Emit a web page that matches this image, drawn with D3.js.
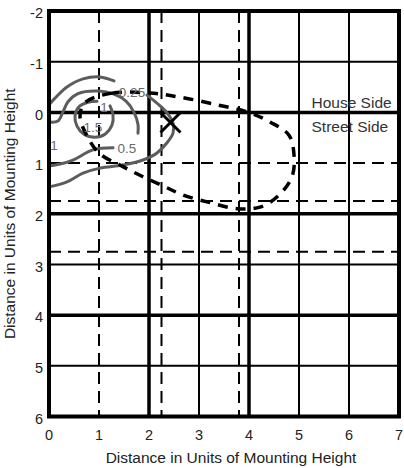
<!DOCTYPE html>
<html><head><meta charset="utf-8">
<script src="https://cdn.jsdelivr.net/npm/d3@7"></script>
<style>body{margin:0;background:#fff}svg{display:block}text{font-family:"Liberation Sans",Arial,sans-serif}</style>
</head><body><svg id="c" width="404" height="468"></svg>
<script>
// ---- data ----
const xTickValues = [0,1,2,3,4,5,6,7];
const yTickValues = [-2,-1,0,1,2,3,4,5,6];
const thinX = [3,5,6];
const thickX = [2,4];
const thinY = [-1,3,5];
const thickY = [0,2,4];
const dashedX = [1,2.25,3.8];
const dashedY = [1,1.75,2.75];

// contour 0.25 (outermost) split by its label
const c025a = [[0,-0.15],[0.16,-0.32],[0.36,-0.5],[0.68,-0.66],[1.02,-0.7],[1.3,-0.62]];
const c025b = [[1.96,-0.34],[2.16,-0.18],[2.36,0.01],[2.48,0.21],[2.48,0.41],[2.36,0.6],[2.16,0.8],[1.88,0.94],[1.48,1.04],[1.02,1.1],[0.68,1.2],[0.36,1.37],[0,1.47]];
// contour 0.5
const c05a = [[0,0.19],[0.18,0.17],[0.28,-0.01],[0.38,-0.21],[0.58,-0.37],[0.98,-0.42],[1.3,-0.36],[1.54,-0.22],[1.7,0.0],[1.78,0.24],[1.78,0.41]];
const c05b = [[1.28,0.7],[0.88,0.74],[0.48,0.94],[0.22,1.02],[0,1.06]];
// contour 1
const c1 = [[1.22,-0.13],[1.28,0.05],[1.26,0.25],[1.12,0.43],[0.92,0.49],[0.7,0.43],[0.56,0.27],[0.52,0.07],[0.6,-0.11],[0.78,-0.2],[0.96,-0.22]];
// black dashed isoline (closed)
const loop = [[0.72,-0.19],[1.26,-0.38],[2.02,-0.38],[2.62,-0.3],[3.36,-0.15],[4.02,0.01],[4.42,0.19],[4.8,0.45],[4.9,0.84],[4.86,1.27],[4.58,1.65],[4.22,1.87],[3.76,1.9],[3.22,1.78],[2.68,1.63],[2.28,1.45],[1.88,1.27],[1.46,1.06],[1.02,0.82],[0.78,0.5],[0.62,0.08]];
const marker = [2.43,0.2];
const contourLabels = [
  {t:"0.25", x:1.66, y:-0.4},
  {t:"1", x:1.1, y:-0.1},
  {t:"1.5", x:0.88, y:0.3},
  {t:"1", x:0.1, y:0.64},
  {t:"0.5", x:1.56, y:0.7}
];
const sideLabels = [{t:"House Side", x:5.25, y:-0.2},{t:"Street Side", x:5.25, y:0.28}];
const axisTitle = "Distance in Units of Mounting Height";

// ---- drawing ----
const svg = d3.select("#c");
const x = d3.scaleLinear().domain([0,7]).range([49,399]);
const y = d3.scaleLinear().domain([-2,6]).range([11,416.5]);
const line = d3.line().x(d=>x(d[0])).y(d=>y(d[1])).curve(d3.curveCatmullRom.alpha(0.5));
const lineClosed = d3.line().x(d=>x(d[0])).y(d=>y(d[1])).curve(d3.curveCatmullRomClosed.alpha(0.5));

const g = svg.append("g");
// thin solid grid
g.selectAll(".tx").data(thinX).join("line").attr("x1",d=>x(d)).attr("x2",d=>x(d)).attr("y1",y(-2)).attr("y2",y(6)).attr("stroke","#000").attr("stroke-width",2);
g.selectAll(".ty").data(thinY).join("line").attr("y1",d=>y(d)).attr("y2",d=>y(d)).attr("x1",x(0)).attr("x2",x(7)).attr("stroke","#000").attr("stroke-width",2);
// dashed grid
g.selectAll(".dx").data(dashedX).join("line").attr("x1",d=>x(d)).attr("x2",d=>x(d)).attr("y1",y(-2)).attr("y2",y(6)).attr("stroke","#000").attr("stroke-width",2).attr("stroke-dasharray","12,7");
g.selectAll(".dy").data(dashedY).join("line").attr("y1",d=>y(d)).attr("y2",d=>y(d)).attr("x1",x(0)).attr("x2",x(7)).attr("stroke","#000").attr("stroke-width",2).attr("stroke-dasharray","12,7");
// thick grid
g.selectAll(".kx").data(thickX).join("line").attr("x1",d=>x(d)).attr("x2",d=>x(d)).attr("y1",y(-2)).attr("y2",y(6)).attr("stroke","#000").attr("stroke-width",3.5);
g.selectAll(".ky").data(thickY).join("line").attr("y1",d=>y(d)).attr("y2",d=>y(d)).attr("x1",x(0)).attr("x2",x(7)).attr("stroke","#000").attr("stroke-width",3.5);

// contours
const gray = "#5c5c5c";
[c025a,c025b,c05a,c05b,c1].forEach(c=>{
  g.append("path").attr("d",line(c)).attr("fill","none").attr("stroke",gray).attr("stroke-width",3).attr("stroke-linecap","round");
});
g.append("path").attr("d",lineClosed(loop)).attr("fill","none").attr("stroke","#000").attr("stroke-width",3.5).attr("stroke-dasharray","10,8");
// X marker
const mx = x(marker[0]), my = y(marker[1]), r = 10;
g.append("path").attr("d",`M${mx-r},${my-r}L${mx+r},${my+r}M${mx-r},${my+r}L${mx+r},${my-r}`).attr("stroke","#000").attr("stroke-width",3);

// contour labels
g.selectAll(".cl").data(contourLabels).join("text").attr("x",d=>x(d.x)).attr("y",d=>y(d.y)).attr("dy","0.36em").attr("text-anchor","middle").attr("font-size",13.5).attr("fill","#6a6a6a").text(d=>d.t);
// side labels
g.selectAll(".sl").data(sideLabels).join("text").attr("x",d=>x(d.x)).attr("y",d=>y(d.y)).attr("dy","0.36em").attr("font-size",15.5).attr("fill","#333").text(d=>d.t);

// frame
g.append("rect").attr("x",x(0)).attr("y",y(-2)).attr("width",x(7)-x(0)).attr("height",y(6)-y(-2)).attr("fill","none").attr("stroke","#000").attr("stroke-width",4);

// axes labels
svg.selectAll(".xl").data(xTickValues).join("text").attr("x",d=>x(d)).attr("y",440).attr("text-anchor","middle").attr("font-size",14.5).attr("fill","#222").text(d=>d);
svg.selectAll(".yl").data(yTickValues).join("text").attr("x",43).attr("y",d=>y(d)).attr("dy","0.5em").attr("text-anchor","end").attr("font-size",14.5).attr("fill","#222").text(d=>d);
svg.append("text").attr("x",231).attr("y",463).attr("text-anchor","middle").attr("font-size",15.5).attr("fill","#222").text(axisTitle);
svg.append("text").attr("transform",`translate(15,${(y(-2)+y(6))/2}) rotate(-90)`).attr("text-anchor","middle").attr("font-size",15.5).attr("fill","#222").text(axisTitle);
</script></body></html>
